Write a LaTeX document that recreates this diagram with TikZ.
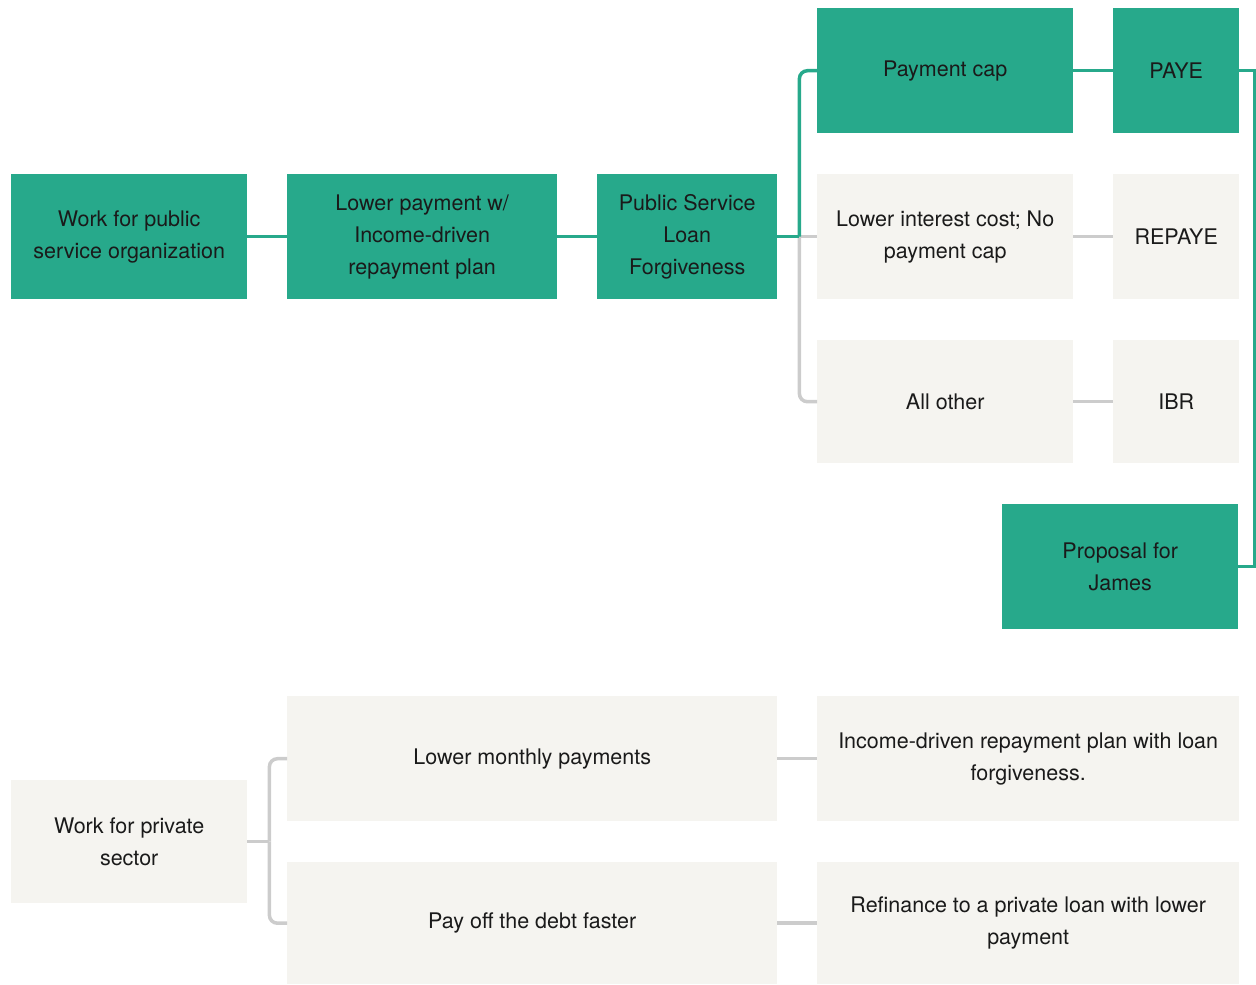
\documentclass[tikz,border=0pt]{standalone}
\usepackage{fontspec}
\setmainfont{TeX Gyre Heros}
\definecolor{planGreen}{RGB}{39,169,139}
\definecolor{planGrey}{RGB}{245,244,240}
\definecolor{lineGrey}{RGB}{204,204,204}
\definecolor{textDark}{RGB}{26,26,26}
\tikzset{
  planbox/.style={anchor=north west, inner sep=0pt, align=center, text=textDark,
    font=\fontsize{21.5}{32}\selectfont},
  greenbox/.style={planbox, fill=planGreen},
  greybox/.style={planbox, fill=planGrey},
  greenline/.style={draw=planGreen, line width=3.5pt},
  greyline/.style={draw=lineGrey, line width=3.5pt},
}
\begin{document}
\begin{tikzpicture}[x=1pt,y=-1pt]
  % page frame
  \useasboundingbox (0,0) rectangle (1256,985);
  % public service path
  \node[greenbox, minimum width=236, minimum height=125] (public) at (11,174) {Work for public\\service organization};
  \node[greenbox, minimum width=270, minimum height=125] (idr) at (287,174) {Lower payment w/\\Income-driven\\repayment plan};
  \node[greenbox, minimum width=180, minimum height=125] (pslf) at (597,174) {Public Service\\Loan\\Forgiveness};
  % plan options
  \node[greenbox, minimum width=256, minimum height=125] (paycap) at (817,8) {Payment cap};
  \node[greenbox, minimum width=126, minimum height=125] (paye) at (1113,8) {PAYE};
  \node[greybox, minimum width=256, minimum height=125] (nocap) at (817,174) {Lower interest cost; No\\payment cap};
  \node[greybox, minimum width=126, minimum height=125] (repaye) at (1113,174) {REPAYE};
  \node[greybox, minimum width=256, minimum height=123] (other) at (817,340) {All other};
  \node[greybox, minimum width=126, minimum height=123] (ibr) at (1113,340) {IBR};
  \node[greenbox, minimum width=236, minimum height=125] (proposal) at (1002,504) {Proposal for\\James};
  % private sector path
  \node[greybox, minimum width=236, minimum height=123] (private) at (11,780) {Work for private\\sector};
  \node[greybox, minimum width=490, minimum height=125] (monthly) at (287,696) {Lower monthly payments};
  \node[greybox, minimum width=490, minimum height=122] (faster) at (287,862) {Pay off the debt faster};
  \node[greybox, minimum width=422, minimum height=125] (forgive) at (817,696) {Income-driven repayment plan with loan\\forgiveness.};
  \node[greybox, minimum width=422, minimum height=122] (refi) at (817,862) {Refinance to a private loan with lower\\payment};
  % grey connectors
  \coordinate (split) at ([xshift=22pt]pslf.east);
  \draw[greyline] (split) -- (nocap.west);
  \draw[greyline, rounded corners=8] (split) |- (other.west);
  \draw[greyline] (nocap.east) -- (repaye.west);
  \draw[greyline] (other.east) -- (ibr.west);
  \coordinate (bsplit) at ([xshift=22pt]private.east);
  \draw[greyline] (private.east) -- (bsplit);
  \draw[greyline, rounded corners=8] (bsplit) |- (monthly.west);
  \draw[greyline, rounded corners=8] (bsplit) |- (faster.west);
  \draw[greyline] (monthly.east) -- (forgive.west);
  \draw[greyline] (faster.east) -- (refi.west);
  % green connectors
  \draw[greenline] (public.east) -- (idr.west);
  \draw[greenline] (idr.east) -- (pslf.west);
  \draw[greenline] (pslf.east) -- (split);
  \draw[greenline, rounded corners=8] (split) |- (paycap.west);
  \draw[greenline] (paycap.east) -- (paye.west);
  \draw[greenline] (paye.east) -- ++(15,0) |- (proposal.east);
\end{tikzpicture}
\end{document}
